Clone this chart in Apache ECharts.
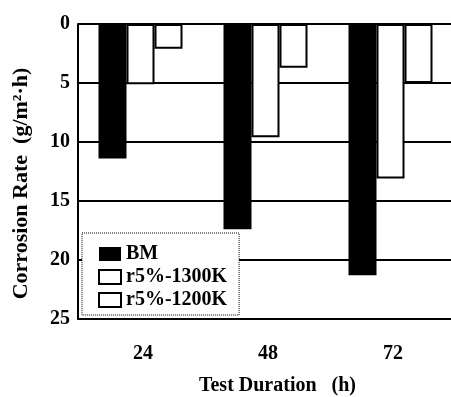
<!DOCTYPE html>
<html lang="en">
<head>
    <meta charset="UTF-8">
    <title>Corrosion Rate</title>
    <script src="https://cdn.jsdelivr.net/npm/echarts@6/dist/echarts.min.js"></script>
    <style>
        html, body { margin: 0; padding: 0; background: #fff; }
        #chart { width: 451px; height: 397px; }
    </style>
</head>
<body>
<div id="chart"></div>
<script type="text/javascript">
    // 数据
    var durations = ['24', '48', '72'];
    var bmRate = [11.4, 17.4, 21.3];
    var rate1300 = [5.1, 9.6, 13.1];
    var rate1200 = [2.1, 3.7, 5.0];
    var yTicks = [0, 25, 5];   // min, max, interval

    var fontFam = 'Liberation Serif';

    var chart = echarts.init(document.getElementById('chart'));

    function whiteBar(name, data) {
        return {
            name: name,
            type: 'bar',
            barWidth: 28,
            barGap: '0%',
            data: data,
            itemStyle: { color: '#fff', borderColor: '#000', borderWidth: 2 }
        };
    }

    var option = {
        backgroundColor: '#fff',
        animation: false,
        grid: { left: 78, right: -2, top: 24, bottom: 78, containLabel: false, outerBoundsMode: 'none' },
        legend: {
            orient: 'vertical',
            left: 82,
            top: 233,
            padding: [11, 12, 5, 16],
            itemWidth: 22,
            itemHeight: 14,
            itemGap: 3,
            icon: 'rect',
            backgroundColor: '#fff',
            borderColor: '#000',
            borderWidth: 1,
            borderType: 'dotted',
            textStyle: { fontFamily: fontFam, fontWeight: 'bold', fontSize: 20, color: '#000', lineHeight: 20 },
            data: ['BM', 'r5%-1300K', 'r5%-1200K']
        },
        xAxis: {
            type: 'category',
            data: durations,
            name: 'Test Duration   (h)',
            nameLocation: 'middle',
            nameGap: 57,
            nameTextStyle: { fontFamily: fontFam, fontWeight: 'bold', fontSize: 20, color: '#000', padding: [0, 0, 0, 24] },
            axisLine: { show: true, onZero: false, lineStyle: { color: '#000', width: 2 } },
            axisTick: { show: false },
            axisLabel: { fontFamily: fontFam, fontWeight: 'bold', fontSize: 20, color: '#000', margin: 25, padding: [0, 0, 0, 5] },
            splitLine: { show: false }
        },
        yAxis: {
            type: 'value',
            inverse: true,
            min: yTicks[0],
            max: yTicks[1],
            interval: yTicks[2],
            name: 'Corrosion Rate  (g/m\u00b2\u00b7h)',
            nameLocation: 'middle',
            nameGap: 46,
            nameTextStyle: { fontFamily: fontFam, fontWeight: 'bold', fontSize: 22, color: '#000', padding: [0, 24, 0, 0] },
            axisLine: { show: true, lineStyle: { color: '#000', width: 2 } },
            axisTick: { show: false },
            axisLabel: { fontFamily: fontFam, fontWeight: 'bold', fontSize: 20, color: '#000', margin: 8 },
            splitLine: { show: true, lineStyle: { color: '#000', width: 2 } }
        },
        series: [
            {
                name: 'BM',
                type: 'bar',
                barWidth: 28,
                barGap: '0%',
                data: bmRate,
                itemStyle: { color: '#000', borderColor: '#000', borderWidth: 0 }
            },
            whiteBar('r5%-1300K', rate1300),
            whiteBar('r5%-1200K', rate1200)
        ]
    };

    chart.setOption(option);
</script>
</body>
</html>
